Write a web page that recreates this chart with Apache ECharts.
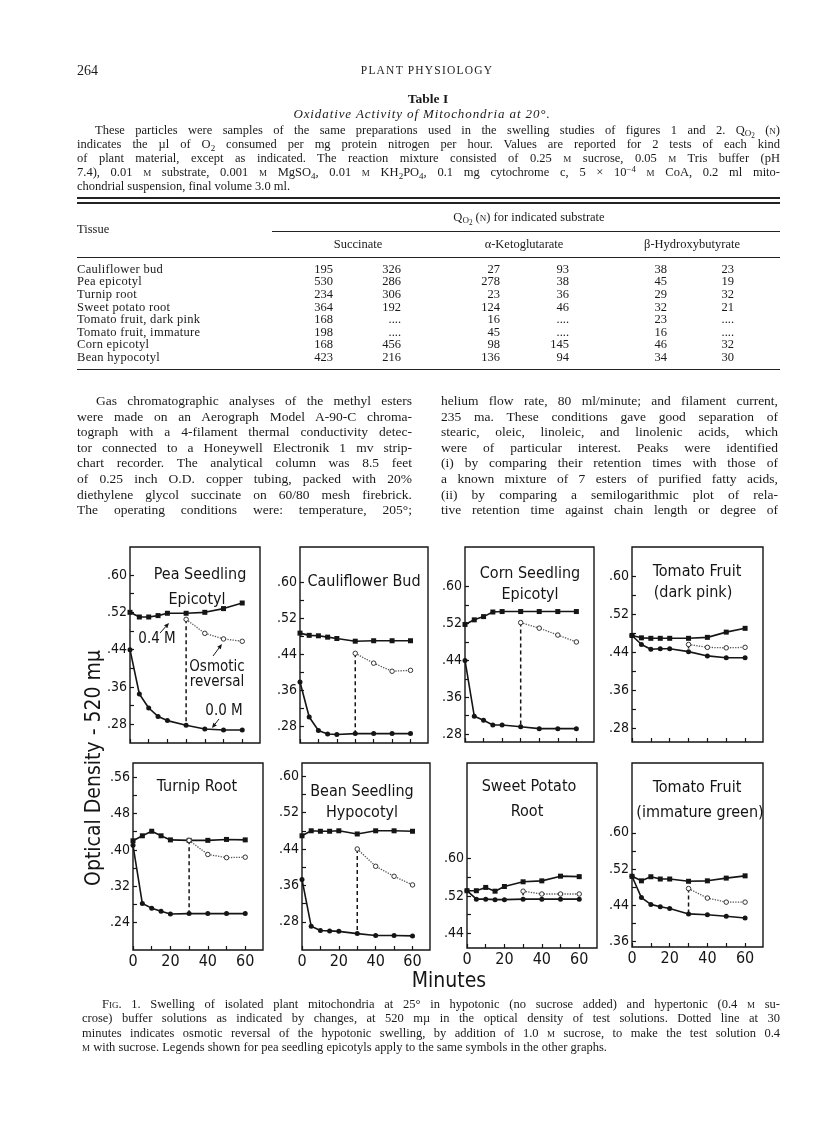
<!DOCTYPE html>
<html><head><meta charset="utf-8">
<script src="https://cdn.jsdelivr.net/npm/echarts@6/dist/echarts.min.js"></script>
<style>
html,body{margin:0;padding:0;background:#fff;}
#page{position:relative;width:816px;height:1121px;overflow:hidden;font-family:'Liberation Serif','DejaVu Serif',serif;color:#1a1a1a;}
.t{position:absolute;white-space:nowrap;}
.rule{position:absolute;background:#222;}
#chart{position:absolute;left:0;top:0;width:816px;height:1121px;}
.sc{font-variant:small-caps;}
.sub{font-size:72%;vertical-align:-0.3em;line-height:0;}
.sub2{font-size:80%;vertical-align:-0.25em;line-height:0;}
.sup{font-size:70%;vertical-align:0.45em;line-height:0;}
</style></head>
<body><div id="page"><div id="chart"></div></div>
<script>
// ---------------- DATA ----------------
const minutes = [0, 5, 10, 15, 20, 30, 40, 50, 60];
const revMinutes = [30, 40, 50, 60];
const xTickVals = [0, 10, 20, 30, 40, 50, 60];
const xLabelVals = [0, 20, 40, 60];

// 0.4 M (filled squares), 0.0 M (filled circles), osmotic reversal (open circles)
const peaHigh = [0.520, 0.510, 0.510, 0.513, 0.518, 0.518, 0.520, 0.528, 0.540];
const peaLow  = [0.440, 0.345, 0.315, 0.297, 0.288, 0.278, 0.270, 0.268, 0.268];
const peaRev  = [0.505, 0.475, 0.463, 0.458];

const cauliHigh = [0.487, 0.482, 0.481, 0.478, 0.475, 0.469, 0.470, 0.470, 0.470];
const cauliLow  = [0.378, 0.300, 0.270, 0.262, 0.261, 0.263, 0.263, 0.263, 0.263];
const cauliRev  = [0.442, 0.420, 0.402, 0.404];

const cornHigh = [0.518, 0.528, 0.535, 0.545, 0.546, 0.546, 0.546, 0.546, 0.546];
const cornLow  = [0.440, 0.319, 0.310, 0.300, 0.300, 0.296, 0.292, 0.292, 0.292];
const cornRev  = [0.522, 0.510, 0.495, 0.480];

const tomPinkHigh = [0.475, 0.470, 0.469, 0.469, 0.469, 0.469, 0.471, 0.482, 0.490];
const tomPinkLow  = [0.475, 0.456, 0.446, 0.447, 0.447, 0.441, 0.432, 0.428, 0.428];
const tomPinkRev  = [0.456, 0.450, 0.449, 0.450];

const turnipHigh = [0.420, 0.431, 0.441, 0.431, 0.422, 0.421, 0.421, 0.423, 0.422];
const turnipLow  = [0.410, 0.282, 0.272, 0.265, 0.259, 0.260, 0.260, 0.260, 0.260];
const turnipRev  = [0.421, 0.390, 0.383, 0.384];

const beanHigh = [0.469, 0.480, 0.479, 0.479, 0.480, 0.473, 0.480, 0.480, 0.479];
const beanLow  = [0.373, 0.270, 0.261, 0.260, 0.259, 0.254, 0.250, 0.250, 0.249];
const beanRev  = [0.440, 0.402, 0.380, 0.361];

const sweetHigh = [0.531, 0.531, 0.538, 0.530, 0.540, 0.550, 0.552, 0.562, 0.561];
const sweetLow  = [0.531, 0.513, 0.513, 0.512, 0.512, 0.513, 0.513, 0.513, 0.513];
const sweetRev  = [0.530, 0.524, 0.524, 0.524];

const tomGreenHigh = [0.504, 0.494, 0.503, 0.498, 0.498, 0.493, 0.494, 0.500, 0.505];
const tomGreenLow  = [0.504, 0.457, 0.442, 0.437, 0.433, 0.421, 0.419, 0.416, 0.412];
const tomGreenRev  = [0.477, 0.456, 0.447, 0.447];

const panelTitles = [
  ["Pea Seedling", "Epicotyl"], ["Cauliflower Bud"], ["Corn Seedling", "Epicotyl"],
  ["Tomato Fruit", "(dark pink)"], ["Turnip Root"], ["Bean Seedling", "Hypocotyl"],
  ["Sweet Potato", "Root"], ["Tomato Fruit", "(immature green)"]
];
const ticksA = [0.28, 0.32, 0.36, 0.40, 0.44, 0.48, 0.52, 0.56, 0.60];
const labelsA = [0.28, 0.36, 0.44, 0.52, 0.60];
const ticksTurnip = [0.24, 0.28, 0.32, 0.36, 0.40, 0.44, 0.48, 0.52, 0.56];
const labelsTurnip = [0.24, 0.32, 0.40, 0.48, 0.56];
const ticksSweet = [0.44, 0.48, 0.52, 0.56, 0.60];
const labelsSweet = [0.44, 0.52, 0.60];
const ticksGreen = [0.36, 0.40, 0.44, 0.48, 0.52, 0.56, 0.60];
const labelsGreen = [0.36, 0.44, 0.52, 0.60];

// table
const tissues = ["Cauliflower bud", "Pea epicotyl", "Turnip root", "Sweet potato root",
  "Tomato fruit, dark pink", "Tomato fruit, immature", "Corn epicotyl", "Bean hypocotyl"];
const succ1 = ["195", "530", "234", "364", "168", "198", "168", "423"];
const succ2 = ["326", "286", "306", "192", "....", "....", "456", "216"];
const keto1 = ["27", "278", "23", "124", "16", "45", "98", "136"];
const keto2 = ["93", "38", "36", "46", "....", "....", "145", "94"];
const hyd1  = ["38", "45", "29", "32", "23", "16", "46", "34"];
const hyd2  = ["23", "19", "32", "21", "....", "....", "32", "30"];

const M = '<span class="sc">m</span>';
const tableNote = [
  'These particles were samples of the same preparations used in the swelling studies of figures 1 and 2. Q<span class="sub">O<span class="sub2">2</span></span> (<span class="sc">n</span>)',
  'indicates the µl of O<span class="sub">2</span> consumed per mg protein nitrogen per hour. Values are reported for 2 tests of each kind',
  'of plant material, except as indicated. The reaction mixture consisted of 0.25 ' + M + ' sucrose, 0.05 ' + M + ' Tris buffer (pH',
  '7.4), 0.01 ' + M + ' substrate, 0.001 ' + M + ' MgSO<span class="sub">4</span>, 0.01 ' + M + ' KH<span class="sub">2</span>PO<span class="sub">4</span>, 0.1 mg cytochrome c, 5 × 10<span class="sup">−4</span> ' + M + ' CoA, 0.2 ml mito-',
  'chondrial suspension, final volume 3.0 ml.'
];
const leftCol = [
  'Gas chromatographic analyses of the methyl esters',
  'were made on an Aerograph Model A-90-C chroma-',
  'tograph with a 4-filament thermal conductivity detec-',
  'tor connected to a Honeywell Electronik 1 mv strip-',
  'chart recorder. The analytical column was 8.5 feet',
  'of 0.25 inch O.D. copper tubing, packed with 20%',
  'diethylene glycol succinate on 60/80 mesh firebrick.',
  'The operating conditions were: temperature, 205°;'
];
const rightCol = [
  'helium flow rate, 80 ml/minute; and filament current,',
  '235 ma. These conditions gave good separation of',
  'stearic, oleic, linoleic, and linolenic acids, which',
  'were of particular interest. Peaks were identified',
  '(i) by comparing their retention times with those of',
  'a known mixture of 7 esters of purified fatty acids,',
  '(ii) by comparing a semilogarithmic plot of rela-',
  'tive retention time against chain length or degree of'
];
const caption = [
  '<span class="sc">Fig.</span> 1. Swelling of isolated plant mitochondria at 25° in hypotonic (no sucrose added) and hypertonic (0.4 ' + M + ' su-',
  'crose) buffer solutions as indicated by changes, at 520 mµ in the optical density of test solutions. Dotted line at 30',
  'minutes indicates osmotic reversal of the hypotonic swelling, by addition of 1.0 ' + M + ' sucrose, to make the test solution 0.4',
  M + ' with sucrose. Legends shown for pea seedling epicotyls apply to the same symbols in the other graphs.'
];

// ---------------- PAGE TEXT ----------------
const page = document.getElementById('page');
function put(html, x, y, size, opt) {
  opt = opt || {};
  const d = document.createElement('div');
  d.className = 't';
  d.innerHTML = html;
  d.style.fontSize = size + 'px';
  d.style.lineHeight = (size * 1.2) + 'px';
  d.style.top = (y - size * 0.66) + 'px';
  if (opt.bold) d.style.fontWeight = 'bold';
  if (opt.italic) d.style.fontStyle = 'italic';
  if (opt.ls) d.style.letterSpacing = opt.ls + 'px';
  page.appendChild(d);
  const w = d.getBoundingClientRect().width;
  if (opt.center) d.style.left = (x - w / 2) + 'px';
  else if (opt.right) d.style.left = (x - w) + 'px';
  else d.style.left = x + 'px';
  if (opt.width) {
    const n = (d.textContent.match(/ /g) || []).length;
    if (n > 0) d.style.wordSpacing = ((opt.width - w) / n) + 'px';
  }
  return d;
}
function rule(x1, x2, y, h) {
  const r = document.createElement('div');
  r.className = 'rule';
  r.style.left = x1 + 'px'; r.style.width = (x2 - x1) + 'px';
  r.style.top = (y - h / 2) + 'px'; r.style.height = h + 'px';
  page.appendChild(r);
}

put('264', 77, 72, 14);
put('PLANT PHYSIOLOGY', 427, 72, 11.5, {center: true, ls: 1.2});
put('Table I', 428, 100, 13.5, {center: true, bold: true});
put('Oxidative Activity of Mitochondria at 20°.', 422, 114.5, 13, {center: true, italic: true, ls: 0.9});
const L = 77, R = 780;
tableNote.forEach((s, i) => {
  const x = i === 0 ? 95 : L;
  const last = i === tableNote.length - 1;
  put(s, x, 131 + i * 14.1, 12.5, last ? {} : {width: R - x});
});
rule(L, R, 197.5, 2);
rule(L, R, 202.5, 2);
put('Q<span class="sub">O<span class="sub2">2</span></span> (<span class="sc">n</span>) for indicated substrate', 529, 218, 12.5, {center: true});
put('Tissue', L, 230, 12.5);
rule(272, R, 231.5, 1);
put('Succinate', 358, 245, 12.5, {center: true});
put('α-Ketoglutarate', 524, 245, 12.5, {center: true});
put('β-Hydroxybutyrate', 692, 245, 12.5, {center: true});
rule(L, R, 257, 1);
const colRight = [333, 401, 500, 569, 667, 734];
const cols = [succ1, succ2, keto1, keto2, hyd1, hyd2];
tissues.forEach((t, i) => {
  const y = 270 + i * 12.6;
  put(t, L, y, 12.5, {ls: 0.3});
  cols.forEach((c, k) => put(c[i], colRight[k], y, 12.5, {right: true}));
});
rule(L, R, 369, 1);
leftCol.forEach((s, i) => {
  const x = i === 0 ? 96 : L;
  put(s, x, 402 + i * 15.6, 13.5, {width: 412 - x});
});
rightCol.forEach((s, i) => put(s, 441, 402 + i * 15.6, 13.5, {width: 778 - 441}));
caption.forEach((s, i) => {
  const x = i === 0 ? 102 : 82;
  const last = i === caption.length - 1;
  put(s, x, 1005 + i * 14.5, 12.5, last ? {} : {width: 780 - x});
});

// ---------------- CHART ----------------
const CF = "'Liberation Sans Narrow','DejaVu Sans Condensed','Liberation Sans',Arial,sans-serif";
const highs = [peaHigh, cauliHigh, cornHigh, tomPinkHigh, turnipHigh, beanHigh, sweetHigh, tomGreenHigh];
const lows = [peaLow, cauliLow, cornLow, tomPinkLow, turnipLow, beanLow, sweetLow, tomGreenLow];
const revs = [peaRev, cauliRev, cornRev, tomPinkRev, turnipRev, beanRev, sweetRev, tomGreenRev];

const layout = [
  {l: 130, t: 547, w: 130, h: 196, min: 0.240, max: 0.660, ticks: ticksA, labels: labelsA, bottom: false, tp: [[200, 575], [197, 600]]},
  {l: 300, t: 547, w: 128, h: 196, min: 0.242, max: 0.679, ticks: ticksA, labels: labelsA, bottom: false, tp: [[364, 582]]},
  {l: 465, t: 547, w: 129, h: 195, min: 0.263, max: 0.686, ticks: ticksA, labels: labelsA, bottom: false, tp: [[530, 574], [530, 595]]},
  {l: 632, t: 547, w: 131, h: 195, min: 0.251, max: 0.661, ticks: ticksA, labels: labelsA, bottom: false, tp: [[697, 572], [693, 593]]},
  {l: 133, t: 763, w: 130, h: 187, min: 0.180, max: 0.591, ticks: ticksTurnip, labels: labelsTurnip, bottom: true, tp: [[197, 787]]},
  {l: 302, t: 763, w: 128, h: 187, min: 0.218, max: 0.629, ticks: ticksA, labels: labelsA, bottom: true, tp: [[362, 792], [362, 813]]},
  {l: 467, t: 763, w: 130, h: 185, min: 0.409, max: 0.803, ticks: ticksSweet, labels: labelsSweet, bottom: true, tp: [[529, 787], [527, 812]]},
  {l: 632, t: 763, w: 131, h: 184, min: 0.348, max: 0.754, ticks: ticksGreen, labels: labelsGreen, bottom: true, tp: [[697, 788], [700, 813]]}
];

const grids = [], xAxes = [], yAxes = [], series = [], graphics = [];
const INK = '#151515';
layout.forEach((p, i) => {
  grids.push({left: p.l, top: p.t, width: p.w, height: p.h, show: true, borderColor: INK, borderWidth: 1.4,
    backgroundColor: 'transparent', outerBoundsMode: 'none'});
  xAxes.push({type: 'value', gridIndex: i, min: 0, max: 69.5,
    axisLine: {show: false}, splitLine: {show: false},
    axisTick: {show: true, inside: true, length: 4, customValues: xTickVals, lineStyle: {color: INK, width: 1.2}},
    axisLabel: {show: p.bottom, customValues: xLabelVals, fontSize: 16, color: INK, fontFamily: CF, margin: 4}});
  yAxes.push({type: 'value', gridIndex: i, min: p.min, max: p.max,
    axisLine: {show: false}, splitLine: {show: false},
    axisTick: {show: true, inside: true, length: 4, customValues: p.ticks, lineStyle: {color: INK, width: 1.2}},
    axisLabel: {customValues: p.labels, fontSize: 14, color: INK, fontFamily: CF, margin: 3,
      formatter: v => v.toFixed(2).replace(/^0/, '')}});
  const hi = highs[i], lo = lows[i], rv = revs[i];
  series.push({type: 'line', xAxisIndex: i, yAxisIndex: i, data: minutes.map((m, k) => [m, hi[k]]),
    symbol: 'rect', symbolSize: 5, lineStyle: {color: INK, width: 1.6}, itemStyle: {color: INK}, silent: true, z: 3});
  series.push({type: 'line', xAxisIndex: i, yAxisIndex: i, data: minutes.map((m, k) => [m, lo[k]]),
    symbol: 'circle', symbolSize: 5, lineStyle: {color: INK, width: 1.6}, itemStyle: {color: INK}, silent: true, z: 3});
  series.push({type: 'line', xAxisIndex: i, yAxisIndex: i, data: revMinutes.map((m, k) => [m, rv[k]]),
    symbol: 'circle', symbolSize: 4.5, lineStyle: {color: '#555', width: 1.3, type: 'dotted'},
    itemStyle: {color: '#fff', borderColor: '#333', borderWidth: 1}, silent: true, z: 4});
  const at30 = minutes.indexOf(30);
  series.push({type: 'line', xAxisIndex: i, yAxisIndex: i, data: [[30, rv[0]], [30, lo[at30]]],
    symbol: 'none', lineStyle: {color: INK, width: 1.5, type: [4, 3]}, silent: true, z: 2});
  panelTitles[i].forEach((txt, k) => {
    graphics.push({type: 'text', x: p.tp[k][0], y: p.tp[k][1], silent: true,
      style: {text: txt, font: '16px ' + CF, fill: INK, textAlign: 'center', textVerticalAlign: 'middle'}});
  });
});

function txt(s, x, y, size, rot) {
  return {type: 'text', x: x, y: y, rotation: rot || 0, silent: true,
    style: {text: s, font: size + 'px ' + CF, fill: INK, textAlign: 'center', textVerticalAlign: 'middle'}};
}
function arrow(x1, y1, x2, y2) {
  const a = Math.atan2(y2 - y1, x2 - x1), len = 5, wd = 2.2;
  const bx = x2 - len * Math.cos(a), by = y2 - len * Math.sin(a);
  const px = -Math.sin(a) * wd, py = Math.cos(a) * wd;
  return [
    {type: 'line', silent: true, shape: {x1: x1, y1: y1, x2: bx, y2: by}, style: {stroke: INK, lineWidth: 1}},
    {type: 'polygon', silent: true, shape: {points: [[x2, y2], [bx + px, by + py], [bx - px, by - py]]}, style: {fill: INK}}
  ];
}
graphics.push(txt('0.4 M', 157, 639, 15));
graphics.push(...arrow(160, 633, 169, 623));
graphics.push(txt('Osmotic', 217, 667, 15));
graphics.push(txt('reversal', 217, 682, 15));
graphics.push(...arrow(213, 656, 222, 644));
graphics.push(txt('0.0 M', 224, 711, 15));
graphics.push(...arrow(219, 719, 212, 728));
graphics.push(txt('Optical Density - 520 mμ', 95, 768, 21, Math.PI / 2));
graphics.push(txt('Minutes', 449, 982, 21));

const chart = echarts.init(document.getElementById('chart'), null, {renderer: 'canvas'});
chart.setOption({
  animation: false,
  backgroundColor: 'transparent',
  grid: grids, xAxis: xAxes, yAxis: yAxes, series: series,
  graphic: {elements: graphics}
});
</script></body></html>
